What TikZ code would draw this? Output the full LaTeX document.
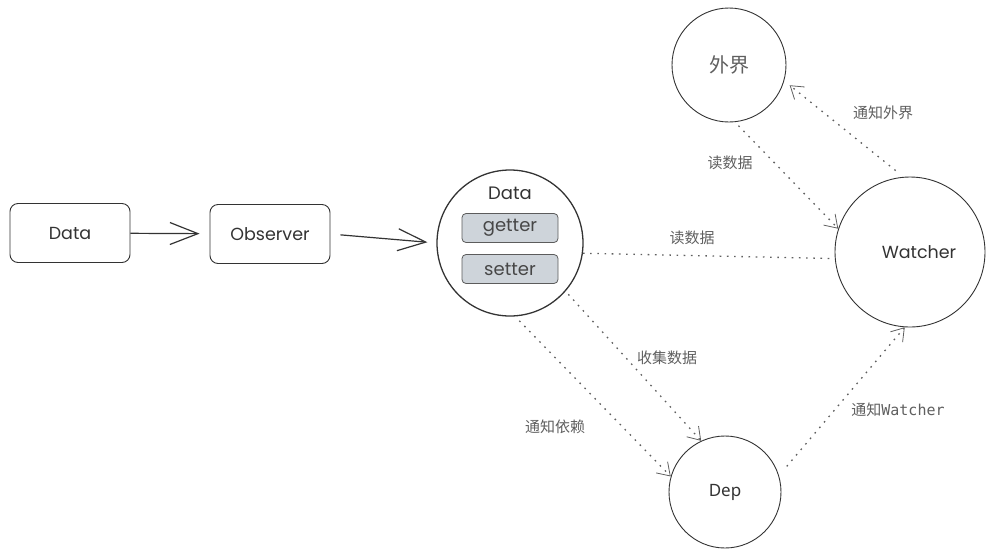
\documentclass[tikz,border=0pt]{standalone}
\usepackage{fontspec}
\usetikzlibrary{arrows.meta}
\newfontfamily\handfont{Poppins}
\newfontfamily\cjkfont{Noto Sans CJK SC}
\newfontfamily\depfont{Noto Sans}
\newfontfamily\codefont{DejaVu Sans Mono}
\definecolor{ink}{HTML}{333333}
\definecolor{grey}{HTML}{5F5F5F}
\definecolor{fieldgrey}{HTML}{CED4DA}

\begin{document}
\begin{tikzpicture}[x=1pt, y=-1pt,
  box/.style={draw=ink, line width=0.9pt, rounded corners=8pt, minimum width=120pt, minimum height=59pt, font=\handfont\fontsize{17.5}{20}\selectfont, text=ink},
  field/.style={draw=ink!80, fill=fieldgrey, line width=0.8pt, rounded corners=4pt, minimum width=96pt, minimum height=29pt, font=\handfont\fontsize{18}{20}\selectfont, text=ink!90},
  bubble/.style={draw=ink, circle, line width=0.9pt, inner sep=0pt},
  lbl/.style={font=\cjkfont\fontsize{15}{18}\selectfont, text=grey},
  dots/.style={draw=grey, line width=1.3pt, dash pattern=on 1.6pt off 5.6pt},
  tip/.style={-{Straight Barb[length=12pt, width=16pt, line width=0.8pt]}},
  big/.style={-{Straight Barb[length=28pt, width=22pt]}, line width=1.2pt, draw=ink}]

\useasboundingbox (0,0) rectangle (997,558);

\node[box] (data) at (70,233) {Data};
\node[box] (observer) at (270,234) {Observer};

\node[bubble, minimum size=146pt, line width=1.3pt] (store) at (510,243) {};
\node[font=\handfont\fontsize{18}{20}\selectfont, text=ink] (title) at (510,193) {Data};
\node[field] (getter) at (510,228) {getter};
\node[field] (setter) at (510,269) {setter};

\node[bubble, minimum size=114pt, font=\cjkfont\fontsize{20}{24}\selectfont, text=grey] (world) at (729,65) {外界};
\node[bubble, minimum size=150pt, font=\handfont\fontsize{17.5}{20}\selectfont, text=ink] (watcher) at (910,252) {\hspace{18pt}Watcher};
\node[bubble, minimum size=112pt, font=\depfont\fontsize{17}{20}\selectfont, text=ink] (dep) at (725,492) {Dep};

\draw[big, shorten >=10pt] (data) -- (observer);
\draw[big, shorten <=10pt, shorten >=9pt] (observer.east) -- (store.west);

\draw[dots, tip, shorten <=5pt] (world.-84) -- (watcher.162);
\draw[dots, tip, shorten <=10pt, shorten >=7pt] (watcher.95) -- (world.-16);
\draw[dots, shorten >=5pt] (store.-8) -- (watcher.185);
\draw[dots, tip, shorten <=4pt] (store.-41) -- (dep.115);
\draw[dots, tip, shorten <=6pt] (store.-86) -- (dep.164);
\draw[dots, tip, shorten <=12pt] (dep.17) -- (watcher.-94);

\node[lbl] (readtop) at (730,163) {读数据};
\node[lbl] (tellworld) at (883,113) {通知外界};
\node[lbl] (readmid) at (692,238) {读数据};
\node[lbl] (collect) at (667,358) {收集数据};
\node[lbl] (telldep) at (555,427) {通知依赖};
\node[lbl] (tellwatcher) at (898,410) {通知{\codefont Watcher}};

\end{tikzpicture}
\end{document}
